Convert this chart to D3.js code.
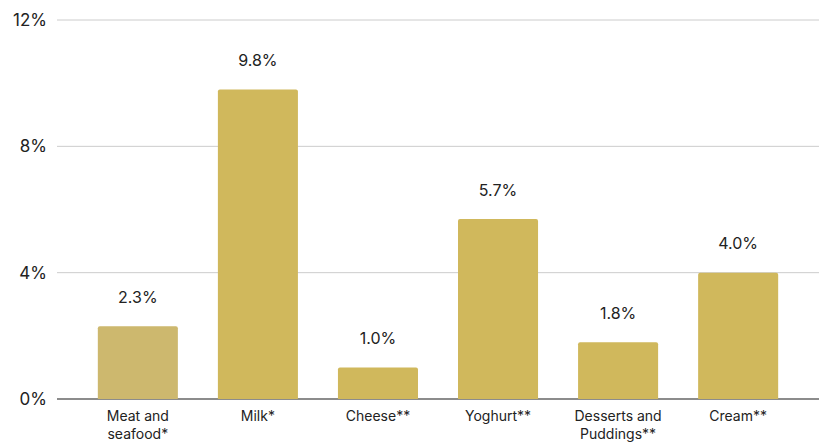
<!DOCTYPE html>
<html><head><meta charset="utf-8">
<script src="https://cdn.jsdelivr.net/npm/d3@7"></script>
<style>body{margin:0;background:#fff}svg{display:block;font-family:Inter,Roboto,sans-serif}</style>
</head><body><svg id="c" width="826" height="443"></svg>
<script>
const categories = [["Meat and","seafood*"],["Milk*"],["Cheese**"],["Yoghurt**"],["Desserts and","Puddings**"],["Cream**"]];
const values = [2.3, 9.8, 1.0, 5.7, 1.8, 4.0];
const barColors = ["#cdb86e","#d0b85c","#d0b85c","#d0b85c","#d0b85c","#d0b85c"];
const yTicks = [0, 4, 8, 12];

const svg = d3.select("#c");
const x = d3.scaleBand().domain(d3.range(values.length)).range([57, 819]).paddingInner(1/3).paddingOuter(0.34);
const y = d3.scaleLinear().domain([0, 12]).range([399, 20]);

const grid = svg.append("g");
yTicks.forEach(t => {
  grid.append("line").attr("x1", 57).attr("x2", 819).attr("y1", y(t)).attr("y2", y(t))
    .attr("stroke", t === 0 ? "#666" : "#ccc").attr("stroke-width", t === 0 ? 1.5 : 1);
  grid.append("text").attr("x", 47).attr("y", y(t)).attr("dy", "0.35em").attr("text-anchor", "end")
    .attr("font-size", 17).attr("fill", "#222").text(t + "%");
});

const r = 2;
svg.append("g").selectAll("path").data(values).join("path")
  .attr("fill", (d, i) => barColors[i])
  .attr("d", (d, i) => {
    const x0 = x(i), w = x.bandwidth(), y0 = y(d), yb = y(0);
    return `M${x0},${yb}V${y0 + r}Q${x0},${y0} ${x0 + r},${y0}H${x0 + w - r}Q${x0 + w},${y0} ${x0 + w},${y0 + r}V${yb}Z`;
  });

svg.append("g").selectAll("text").data(values).join("text")
  .attr("x", (d, i) => x(i) + x.bandwidth() / 2).attr("y", d => y(d) - 29).attr("dy", "0.35em")
  .attr("text-anchor", "middle").attr("font-size", 16).attr("fill", "#222")
  .text(d => d.toFixed(1) + "%");

const xl = svg.append("g");
categories.forEach((lines, i) => {
  const t = xl.append("text").attr("x", x(i) + x.bandwidth() / 2).attr("y", 416).attr("dy", "0.35em")
    .attr("text-anchor", "middle").attr("font-size", 14).attr("fill", "#222");
  lines.forEach((l, j) => t.append("tspan").attr("x", x(i) + x.bandwidth() / 2).attr("dy", j === 0 ? "0.35em" : "18px").text(l));
});
</script></body></html>
